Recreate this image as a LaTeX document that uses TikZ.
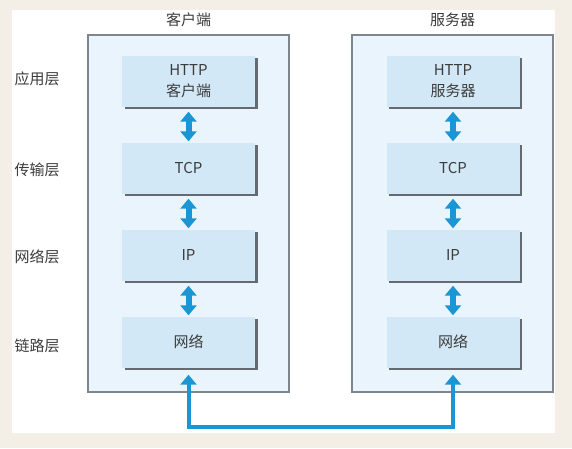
\documentclass[tikz,border=0pt]{standalone}
\usepackage{fontspec}
\setmainfont{Noto Sans CJK SC}
\usetikzlibrary{arrows.meta,shadows}
\definecolor{cream}{HTML}{F4EFE6}
\definecolor{hostfill}{HTML}{EAF4FC}
\definecolor{hostline}{HTML}{7E858C}
\definecolor{layerfill}{HTML}{D2E8F6}
\definecolor{wireblue}{HTML}{1A96D4}
\definecolor{ink}{HTML}{3C3C3C}
\begin{document}
\begin{tikzpicture}[x=1pt,y=-1pt,
  every node/.style={text=ink,font=\fontsize{15}{21}\selectfont},
  host/.style={draw=hostline,line width=1.2pt,fill=hostfill,minimum width=201pt,minimum height=357pt,inner sep=0pt},
  layer/.style={fill=layerfill,minimum width=133pt,minimum height=51pt,align=center,inner sep=0pt,
    drop shadow={shadow xshift=2.5pt,shadow yshift=-2.5pt,fill=hostline!80!black,opacity=1}},
  dbl/.style={wireblue,line width=6pt,{Triangle[width=16pt,length=10pt]}-{Triangle[width=16pt,length=10pt]},shorten <=5pt,shorten >=1pt},
  wire/.style={wireblue,line width=4pt,{Triangle[width=16pt,length=10pt]}-{Triangle[width=16pt,length=10pt]},shorten <=7pt,shorten >=7pt}]
\useasboundingbox (0,0) rectangle (572,448);
\fill[cream] (0,0) rectangle (572,448);
\fill[white] (12,10) rectangle (555,433);
\node[host] (cli) at (188.5,213.5) {};
\node[host] (srv) at (452.5,213.5) {};
\node (clit) at (188.5,20) {客户端};
\node (srvt) at (452.5,20) {服务器};
\node (app) at (37,79) {应用层};
\node (trn) at (37,170) {传输层};
\node (ipl) at (37,257) {网络层};
\node (lnk) at (37,346) {链路层};
\node[layer] (chttp) at (188.5,81) {HTTP\\客户端};
\node[layer] (ctcp) at (188.5,168) {TCP};
\node[layer] (cip) at (188.5,255) {IP};
\node[layer] (cnet) at (188.5,342) {网络};
\node[layer] (shttp) at (453,81) {HTTP\\服务器};
\node[layer] (stcp) at (453,168) {TCP};
\node[layer] (sip) at (453,255) {IP};
\node[layer] (snet) at (453,342) {网络};
\draw[dbl] (chttp.south) -- (ctcp.north);
\draw[dbl] (ctcp.south) -- (cip.north);
\draw[dbl] (cip.south) -- (cnet.north);
\draw[dbl] (shttp.south) -- (stcp.north);
\draw[dbl] (stcp.south) -- (sip.north);
\draw[dbl] (sip.south) -- (snet.north);
\coordinate (bus) at (0,427);
\draw[wire] (cnet.south) -- (cnet.south |- bus) -| (snet.south);
\end{tikzpicture}
\end{document}
